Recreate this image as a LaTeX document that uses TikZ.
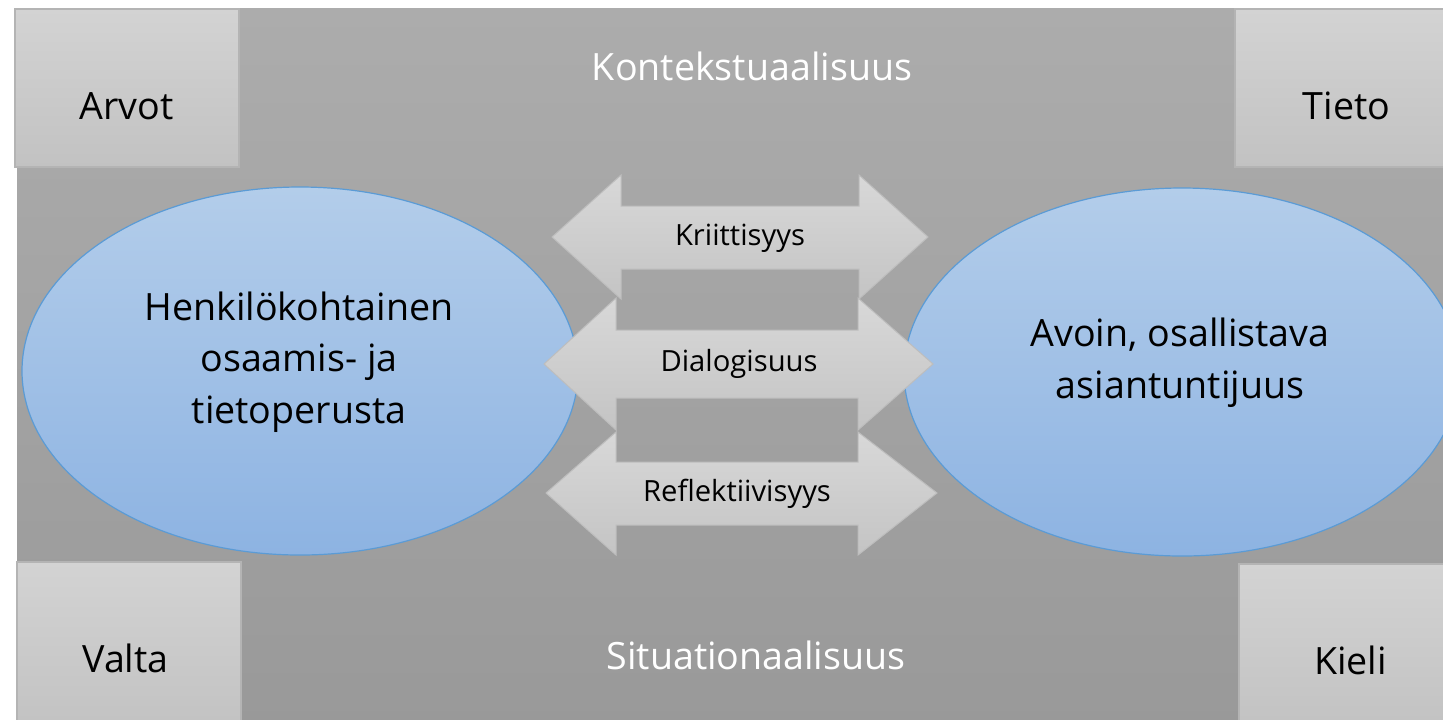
\documentclass[tikz,border=0pt]{standalone}
\usepackage{fontspec}
\setmainfont{Open Sans}
\usetikzlibrary{shapes.geometric}
\definecolor{bgtop}{HTML}{ACACAC}
\definecolor{bgbot}{HTML}{999999}
\definecolor{boxtop}{HTML}{D3D3D3}
\definecolor{boxbot}{HTML}{C2C2C2}
\definecolor{boxline}{HTML}{B4B4B4}
\definecolor{elltop}{HTML}{B3CDEA}
\definecolor{ellbot}{HTML}{8DB3E2}
\definecolor{ellline}{HTML}{5B9BD5}
\definecolor{arrtop}{HTML}{D8D8D8}
\definecolor{arrbot}{HTML}{C4C4C4}
\definecolor{arrline}{HTML}{BDBDBD}
\begin{document}
\begin{tikzpicture}[x=0.5pt,y=-0.5pt,
  bg/.style={top color=bgtop,bottom color=bgbot},
  cornerbox/.style={top color=boxtop,bottom color=boxbot,draw=boxline,line width=0.6pt},
  blob/.style={ellipse,top color=elltop,bottom color=ellbot,draw=ellline,line width=0.6pt,inner sep=0,outer sep=0},
  twoway/.style={top color=arrtop,bottom color=arrbot,draw=arrline,line width=0.5pt},
  bigtxt/.style={font=\fontsize{18.8}{25.75}\selectfont,anchor=base,inner sep=0,align=center},
  titletxt/.style={bigtxt,text=white},
  smalltxt/.style={font=\fontsize{14.6}{18}\selectfont,anchor=base,inner sep=0}]
\useasboundingbox (0,0) rectangle (1443,719);
% background
\path[bg] (17,8) rectangle (1460,730);
% corner boxes
\path[cornerbox] (15,9) rectangle (239,167);
\path[cornerbox] (1235,9) rectangle (1460,167);
\path[cornerbox] (17,562) rectangle (241,730);
\path[cornerbox] (1239,564) rectangle (1460,730);
% ellipses
\node[blob,minimum width=278pt,minimum height=184pt] (left) at (300,371) {};
\node[blob,minimum width=278pt,minimum height=184pt] (right) at (1182,372) {};
% double arrows
\path[twoway] (552,237) -- (621,175) -- (621,206) -- (859,206) -- (859,175) -- (928,237)
  -- (859,299) -- (859,269) -- (621,269) -- (621,299) -- cycle;
\path[twoway] (544,364) -- (616,298) -- (616,330) -- (858,330) -- (858,298) -- (933,364)
  -- (858,430) -- (858,398) -- (616,398) -- (616,430) -- cycle;
\path[twoway] (546,493) -- (616,432) -- (616,462) -- (858,462) -- (858,432) -- (937,493)
  -- (858,555) -- (858,525) -- (616,525) -- (616,555) -- cycle;
% texts
\node[titletxt] (ctx) at (752,80) {Kontekstuaalisuus};
\node[titletxt] (sit) at (756,669) {Situationaalisuus};
\node[bigtxt] (arvot) at (126.5,119) {Arvot};
\node[bigtxt] (tieto) at (1346.5,119) {Tieto};
\node[bigtxt] (valta) at (125.5,672) {Valta};
\node[bigtxt] (kieli) at (1350.5,674) {Kieli};
\node[bigtxt] (lefttxt) at (299,423) {Henkilökohtainen\\osaamis- ja\\tietoperusta};
\node[bigtxt] (righttxt) at (1180,398) {Avoin, osallistava\\asiantuntijuus};
\node[smalltxt] (krit) at (740,245) {Kriittisyys};
\node[smalltxt] (dial) at (739,371) {Dialogisuus};
\node[smalltxt] (refl) at (737,501) {Reflektiivisyys};
\end{tikzpicture}
\end{document}
